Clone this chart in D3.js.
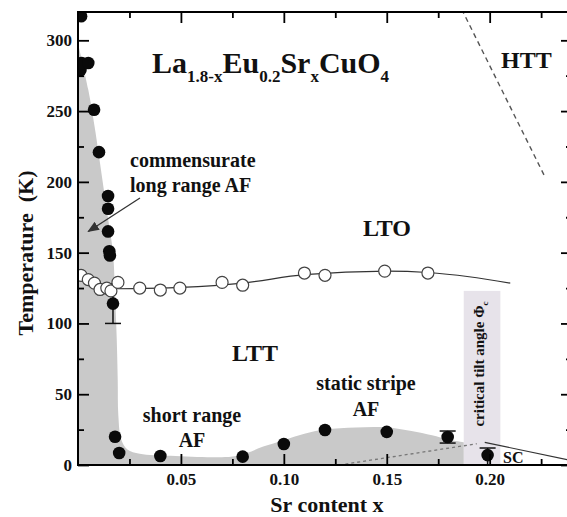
<!DOCTYPE html>
<html>
<head>
<meta charset="utf-8">
<script src="https://cdn.jsdelivr.net/npm/d3@7"></script>
<style>
  html, body { margin: 0; padding: 0; background: #fff; }
  svg { display: block; }
  text { font-family: "Liberation Serif", "Times New Roman", serif; font-weight: bold; fill: #111; }
</style>
</head>
<body>
<svg id="chart" width="567" height="517"></svg>
<script>
// Phase diagram of La(1.8-x)Eu(0.2)Sr(x)CuO4

// Filled symbols: magnetic ordering temperatures [x, T]
const afPoints = [
  [0.0015, 317], [0.0012, 279], [0.0018, 284], [0.0050, 284],
  [0.0078, 251], [0.0102, 221],
  [0.0146, 190], [0.0146, 181], [0.0146, 165], [0.0152, 151], [0.0155, 148],
  [0.0170, 114],
  [0.0180, 20], [0.0200, 8.5], [0.0400, 6.4],
  [0.0800, 5.9], [0.1000, 14.8], [0.1200, 24.7], [0.1500, 23.4],
  [0.1796, 19.8], [0.1990, 7]
];
// Error bars on some of the filled symbols [x, low, high]
const afErrors = [
  [0.0170, 100, 128],
  [0.1796, 15.5, 24],
  [0.1990, 0, 12]
];
// Open symbols: LTO -> LTT structural transition [x, T]
const ltoPoints = [
  [0.0015, 134], [0.0050, 131], [0.0080, 128.5], [0.0107, 124],
  [0.0140, 125], [0.0160, 123], [0.0194, 129],
  [0.0300, 125], [0.0400, 123.6], [0.0495, 125],
  [0.0700, 129], [0.0800, 127], [0.1100, 135.6], [0.1200, 134],
  [0.1490, 137], [0.1700, 135.6]
];
// Guide line through the LTO/LTT transition
const ltoLine = [
  [0.018, 124.5], [0.05, 125.5], [0.08, 128.5], [0.11, 134.5],
  [0.15, 137], [0.17, 136], [0.19, 133], [0.21, 128.5]
];
// HTT/LTO boundary (dashed)
const httLine = [[0.1864, 322], [0.2267, 204]];
// Upper edge of the AF region (commensurate, short range, stripe)
const afBoundary = [
  [0, 298], [0.005, 265], [0.0085, 235], [0.0115, 205], [0.0145, 175],
  [0.0170, 150], [0.0180, 120], [0.0188, 90], [0.0193, 60], [0.0196, 35],
  [0.0210, 18], [0.0240, 11], [0.0300, 8], [0.0450, 6.5], [0.0650, 5.5],
  [0.0750, 6], [0.0820, 8.5], [0.0900, 13], [0.1000, 17.5], [0.1100, 22],
  [0.1200, 25], [0.1350, 26.5], [0.1500, 26.5], [0.1620, 24], [0.1720, 21],
  [0.1800, 18], [0.1874, 16]
];
const afRegionEnd = 0.1874;
// Critical tilt angle band [x0, x1, Ttop]
const tiltBand = [0.1874, 0.2052, 123];
// Superconducting boundary and dotted guide
const scLine = [[0.1976, 16], [0.2400, 3]];
const dottedLine = [[0.127, 0], [0.1937, 15]];
// Arrow pointing to the commensurate AF region
const arrowLine = [[0.0301, 188.6], [0.0050, 165]];

// Axis ticks
const xMajor = [0.05, 0.10, 0.15, 0.20];
const xMajorLabels = ["0.05", "0.10", "0.15", "0.20"];
const xMinor = [0.025, 0.075, 0.125, 0.175, 0.225];
const yMajor = [0, 50, 100, 150, 200, 250, 300];
const yMinor = [25, 75, 125, 175, 225, 275];

const svg = d3.select("#chart");
const L = 78, R = 572, T0 = 12, B = 465;
const x = d3.scaleLinear().domain([0, 0.24]).range([L, R]);
const y = d3.scaleLinear().domain([0, 320]).range([B, T0]);

svg.append("defs").append("clipPath").attr("id", "plot")
  .append("rect").attr("x", L).attr("y", T0).attr("width", R - L).attr("height", B - T0);
svg.select("defs").append("marker")
  .attr("id", "arrowhead").attr("viewBox", "0 0 10 10").attr("refX", 9).attr("refY", 5)
  .attr("markerWidth", 9).attr("markerHeight", 9).attr("orient", "auto")
  .append("path").attr("d", "M0,1 L10,5 L0,9 Z").attr("fill", "#333");

const plot = svg.append("g").attr("clip-path", "url(#plot)");

// Tilt-angle band
plot.append("rect")
  .attr("x", x(tiltBand[0])).attr("width", x(tiltBand[1]) - x(tiltBand[0]))
  .attr("y", y(tiltBand[2])).attr("height", y(0) - y(tiltBand[2]))
  .attr("fill", "#e7e3ea");

// AF region
const edge = d3.line().x(d => x(d[0])).y(d => y(d[1])).curve(d3.curveCatmullRom.alpha(0.5));
plot.append("path")
  .attr("d", edge(afBoundary) + `L${x(afRegionEnd)},${y(0)}L${x(0)},${y(0)}Z`)
  .attr("fill", "#c9c9c9");

const straight = d3.line().x(d => x(d[0])).y(d => y(d[1]));

plot.append("path").attr("d", straight(dottedLine))
  .attr("fill", "none").attr("stroke", "#777").attr("stroke-width", 1.3).attr("stroke-dasharray", "3,3");
plot.append("path").attr("d", straight(scLine))
  .attr("fill", "none").attr("stroke", "#333").attr("stroke-width", 1.2);
plot.append("path").attr("d", straight(httLine))
  .attr("fill", "none").attr("stroke", "#555").attr("stroke-width", 1.4).attr("stroke-dasharray", "5,4");

plot.append("path").attr("d", d3.line().x(d => x(d[0])).y(d => y(d[1])).curve(d3.curveMonotoneX)(ltoLine))
  .attr("fill", "none").attr("stroke", "#333").attr("stroke-width", 1.2);

// Error bars
const eb = plot.append("g").attr("stroke", "#111").attr("stroke-width", 1.5);
afErrors.forEach(([xv, lo, hi]) => {
  eb.append("line").attr("x1", x(xv)).attr("x2", x(xv)).attr("y1", y(lo)).attr("y2", y(hi));
  [lo, hi].forEach(v => eb.append("line")
    .attr("x1", x(xv) - 8).attr("x2", x(xv) + 8).attr("y1", y(v)).attr("y2", y(v)));
});

plot.append("g").selectAll("circle").data(ltoPoints).join("circle")
  .attr("cx", d => x(d[0])).attr("cy", d => y(d[1])).attr("r", 6)
  .attr("fill", "#fff").attr("stroke", "#444").attr("stroke-width", 1.2);

plot.append("g").selectAll("circle").data(afPoints).join("circle")
  .attr("cx", d => x(d[0])).attr("cy", d => y(d[1])).attr("r", 6.3)
  .attr("fill", "#0a0a0a");

// Arrow
svg.append("path").attr("d", straight(arrowLine))
  .attr("stroke", "#333").attr("stroke-width", 1.3).attr("fill", "none")
  .attr("marker-end", "url(#arrowhead)");

// Axes: ticks point inward on all four sides
function styleAxis(g) {
  g.select(".domain").remove();
  g.selectAll(".tick line").attr("stroke", "#000").attr("stroke-width", 1.8);
  g.selectAll("text").attr("font-size", 17).attr("fill", "#111")
    .attr("font-family", "'Liberation Serif', serif").attr("font-weight", "bold");
}
svg.append("g").attr("transform", `translate(0,${B})`)
  .call(d3.axisBottom(x).tickValues(xMajor).tickSize(-11).tickPadding(8)
    .tickFormat((d, i) => xMajorLabels[i])).call(styleAxis);
svg.append("g").attr("transform", `translate(0,${B})`)
  .call(d3.axisBottom(x).tickValues(xMinor).tickSize(-6).tickFormat("")).call(styleAxis);
svg.append("g").attr("transform", `translate(0,${T0})`)
  .call(d3.axisTop(x).tickValues(xMajor).tickSize(-11).tickFormat("")).call(styleAxis);
svg.append("g").attr("transform", `translate(0,${T0})`)
  .call(d3.axisTop(x).tickValues(xMinor).tickSize(-6).tickFormat("")).call(styleAxis);
svg.append("g").attr("transform", `translate(${L},0)`)
  .call(d3.axisLeft(y).tickValues(yMajor).tickSize(-11).tickPadding(6)
    .tickFormat(d3.format("d"))).call(styleAxis);
svg.append("g").attr("transform", `translate(${L},0)`)
  .call(d3.axisLeft(y).tickValues(yMinor).tickSize(-6).tickFormat("")).call(styleAxis);
svg.append("g").attr("transform", `translate(${R},0)`)
  .call(d3.axisRight(y).tickValues(yMajor).tickSize(-11).tickFormat("")).call(styleAxis);
svg.append("g").attr("transform", `translate(${R},0)`)
  .call(d3.axisRight(y).tickValues(yMinor).tickSize(-6).tickFormat("")).call(styleAxis);

svg.append("rect").attr("x", L).attr("y", T0).attr("width", R - L).attr("height", B - T0)
  .attr("fill", "none").attr("stroke", "#000").attr("stroke-width", 2);

// Axis titles
svg.append("text").attr("x", 327).attr("y", 512).attr("text-anchor", "middle")
  .attr("font-size", 22).text("Sr content x");
svg.append("text").attr("transform", "translate(33,253) rotate(-90)")
  .attr("text-anchor", "middle").attr("font-size", 22)
  .style("white-space", "pre").text("Temperature  (K)");

// Compound formula
const title = svg.append("text").attr("x", 152).attr("y", 73).attr("font-size", 30);
[["La", 0], ["1.8-x", 1], ["Eu", 0], ["0.2", 1], ["Sr", 0], ["x", 1], ["CuO", 0], ["4", 1]]
  .forEach(([s, sub], i, arr) => {
    const prevSub = i > 0 ? arr[i - 1][1] : 0;
    title.append("tspan").attr("font-size", sub ? 17 : 30)
      .attr("dy", sub === prevSub ? 0 : (sub ? 9 : -9)).text(s);
  });

// Phase labels
function label(txt, xp, yp, size, anchor) {
  return svg.append("text").attr("x", xp).attr("y", yp).attr("font-size", size)
    .attr("text-anchor", anchor || "middle").text(txt);
}
label("HTT", 501, 68, 24, "start");
label("LTO", 387, 236, 24);
label("LTT", 255, 361, 24);
label("commensurate", 130, 167, 20, "start");
label("long range AF", 130, 192, 20, "start");
label("short range", 192, 422, 20);
label("AF", 192, 447, 20);
label("static stripe", 366, 390, 20);
label("AF", 366, 416, 20);
label("SC", 503, 463, 16, "start").attr("fill", "#223");

const tilt = svg.append("text").attr("transform", "translate(484,364) rotate(-90)")
  .attr("text-anchor", "middle").attr("font-size", 15);
tilt.append("tspan").text("critical tilt angle \u03A6");
tilt.append("tspan").attr("font-size", 9).attr("dy", 4).text("c");
</script>
</body>
</html>
